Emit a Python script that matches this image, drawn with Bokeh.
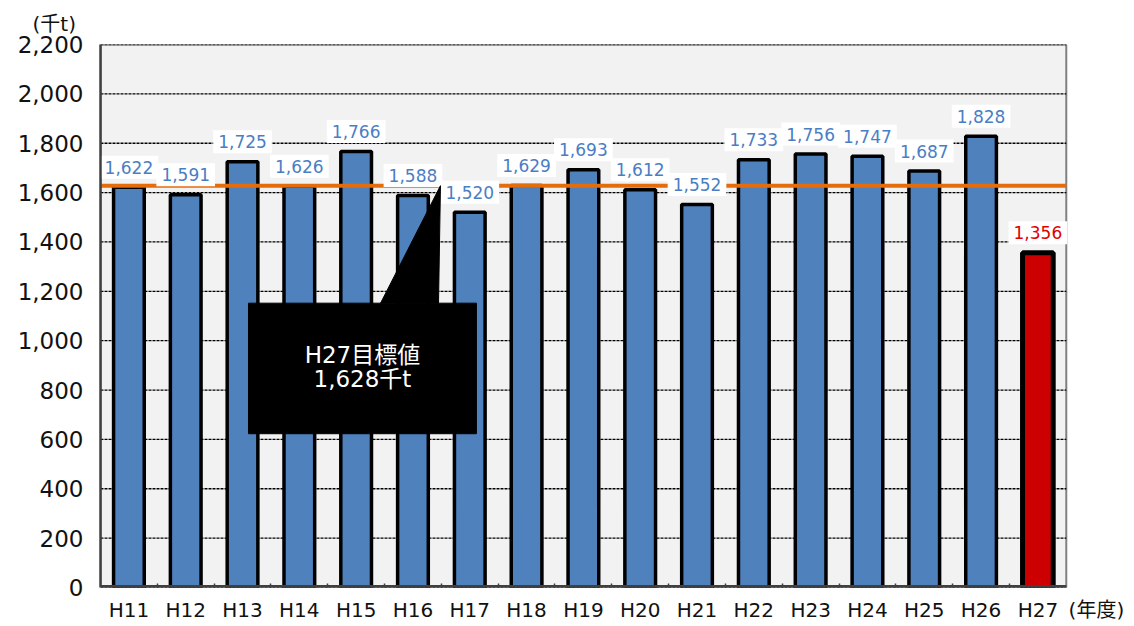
from bokeh.plotting import figure
from bokeh.models import Range1d, FixedTicker, ColumnDataSource, Label, NumeralTickFormatter, Title
from bokeh.core.properties import value
from bokeh.embed import file_html
from bokeh.resources import INLINE

# ---- data ----
years = ["H11", "H12", "H13", "H14", "H15", "H16", "H17", "H18", "H19",
         "H20", "H21", "H22", "H23", "H24", "H25", "H26", "H27"]
amounts = [1622, 1591, 1725, 1626, 1766, 1588, 1520, 1629, 1693,
           1612, 1552, 1733, 1756, 1747, 1687, 1828, 1356]
target = 1628
y_ticks = [0, 200, 400, 600, 800, 1000, 1200, 1400, 1600, 1800, 2000, 2200]
callout_lines = ["H27目標値", "1,628千t"]
y_unit = "(千t)"
x_unit = "(年度)"

FONT = "DejaVu Sans, 'Noto Sans CJK JP'"
BLUE = "#4f81bd"
RED = "#cc0000"

n = len(years)
ymax = y_ticks[-1]
xs = [i + 0.5 for i in range(n)]
fills = [BLUE] * (n - 1) + [RED]
outline_w = [3.5] * (n - 1) + [5]
label_colors = ["#4a7ec4"] * (n - 1) + ["#e00000"]
labels = [f"{v:,}" for v in amounts]
unit_x = n + 0.53

src = ColumnDataSource(dict(x=xs, top=amounts, fill=fills, lw=outline_w, lab=labels, lc=label_colors))

p = figure(width=1134, height=626, x_range=Range1d(0, n + 1.06), y_range=Range1d(0, ymax),
           output_backend="svg", toolbar_location=None,
           min_border_left=100, min_border_right=8, min_border_top=44, min_border_bottom=39)
p.background_fill_color = "white"
p.border_fill_color = "white"
p.outline_line_color = None
p.xgrid.visible = False
p.ygrid.visible = False

# title as y-unit
p.title = Title(text=y_unit, align="left", offset=-68, text_font=FONT,
                text_font_size="20px", text_font_style="normal", text_color="#111111", standoff=18)

# plot area background
p.quad(left=0, right=n, bottom=0, top=ymax, fill_color="#f2f2f2", line_color="#808080", line_width=2)

# grid lines
p.segment(x0=[0] * len(y_ticks), x1=[n] * len(y_ticks), y0=y_ticks, y1=y_ticks,
          line_color="black", line_dash="3 1", line_width=1.3)

# axes
p.yaxis.ticker = FixedTicker(ticks=y_ticks)
p.yaxis.formatter = NumeralTickFormatter(format="0,0")
p.yaxis.major_label_text_font = FONT
p.yaxis.major_label_text_font_size = "23px"
p.yaxis.major_label_text_color = "#111111"
p.yaxis.major_tick_in = 0
p.yaxis.major_tick_out = 0
p.yaxis.minor_tick_line_color = None
p.yaxis.major_label_standoff = 17
p.yaxis.axis_line_color = "#404040"
p.yaxis.axis_line_width = 2.5

xlab = dict(zip(xs, years))
xlab[unit_x] = x_unit
p.xaxis.ticker = FixedTicker(ticks=xs + [unit_x], minor_ticks=list(range(1, n)))
p.xaxis.major_label_overrides = xlab
p.xaxis.major_label_text_font = FONT
p.xaxis.major_label_text_font_size = "20px"
p.xaxis.major_label_text_color = "#111111"
p.xaxis.major_tick_in = 0
p.xaxis.major_tick_out = 0
p.xaxis.minor_tick_in = 4
p.xaxis.minor_tick_out = 0
p.xaxis.minor_tick_line_color = "#404040"
p.xaxis.minor_tick_line_width = 1.5
p.xaxis.major_label_standoff = 10
p.xaxis.axis_line_color = None

# bars
p.vbar(x="x", top="top", width=0.54, bottom=0, source=src,
       fill_color="fill", line_color="black", line_width="lw")

# bottom axis line (only under the plot area)
p.segment(x0=[0], x1=[n], y0=[0], y1=[0], line_color="#404040", line_width=5)

# target line
p.segment(x0=[0], x1=[n], y0=[target], y1=[target], line_color="#e46c0a", line_width=4)

# data labels
p.text(x="x", y="top", text="lab", source=src, y_offset=-20,
       text_align="center", text_baseline="middle", text_color="lc",
       text_font=value(FONT), text_font_size="17px",
       background_fill_color="white", padding=5)

# callout
box_l, box_r, box_b, box_t = 2.605, 6.617, 623, 1152
tip_x = 5.984
p.patch(x=[4.93, tip_x, 5.95], y=[box_t, target, box_t], fill_color="black", line_color="black")
p.quad(left=box_l, right=box_r, bottom=box_b, top=box_t, fill_color="black", line_color="black")
cx = (box_l + box_r) / 2
p.add_layout(Label(x=cx, y=942, text=callout_lines[0], text_align="center", text_baseline="middle",
                   text_color="white", text_font=FONT, text_font_size="23px"))
p.add_layout(Label(x=cx, y=846, text=callout_lines[1], text_align="center", text_baseline="middle",
                   text_color="white", text_font=FONT, text_font_size="23px"))

open("out.html", "w").write(file_html(p, INLINE))
